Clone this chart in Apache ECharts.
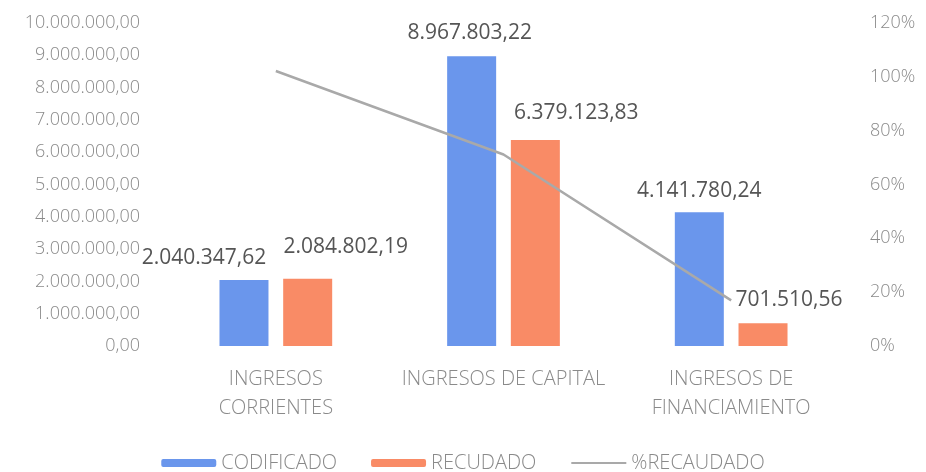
<!DOCTYPE html>
<html>
<head>
<meta charset="utf-8">
<script src="https://cdn.jsdelivr.net/npm/echarts@6/dist/echarts.min.js"></script>
<style>
html,body{margin:0;padding:0;background:#fff;}
#chart{width:926px;height:472px;}
</style>
</head>
<body>
<div id="chart"></div>
<script>
const categories = ['INGRESOS\nCORRIENTES', 'INGRESOS DE CAPITAL', 'INGRESOS DE\nFINANCIAMIENTO'];
const codificado = [2040347.62, 8967803.22, 4141780.24];
const recaudado = [2084802.19, 6379123.83, 701510.56];
const pctRecaudado = [102.18, 71.13, 16.94];
const seriesNames = ['CODIFICADO', 'RECUDADO', '%RECAUDADO'];

// label nudges (layout only)
const codOffsets = [[-40, -7], [-2, -8], [0, -6]];
const recOffsets = [[38, -16], [41, -11], [26, -8]];

function fmtEs(v, dec) {
  const parts = Number(v).toFixed(dec).split('.');
  const intPart = parts[0].replace(/\B(?=(\d{3})+(?!\d))/g, '.');
  return dec > 0 ? intPart + ',' + parts[1] : intPart;
}

const FONT = '"Open Sans", sans-serif';
const GRAY = '#8a8a8a';
const LABEL = '#555555';

function barData(vals, offs) {
  return vals.map((v, i) => ({ value: v, label: { offset: offs[i] } }));
}

const chart = echarts.init(document.getElementById('chart'));
chart.setOption({
  animation: false,
  textStyle: { fontFamily: FONT },
  grid: { left: 162, right: 81, top: 23, bottom: 126 },
  legend: {
    data: [
      { name: seriesNames[0] },
      { name: seriesNames[1] },
      { name: seriesNames[2], itemStyle: { opacity: 0 } }
    ],
    left: 'center',
    top: 448,
    itemWidth: 55,
    itemHeight: 8,
    itemGap: 34,
    textStyle: { fontFamily: FONT, fontSize: 20, fontWeight: 300, color: GRAY }
  },
  xAxis: {
    type: 'category',
    data: categories,
    axisLine: { show: false },
    axisTick: { show: false },
    axisLabel: {
      fontFamily: FONT, fontSize: 20, fontWeight: 300, color: GRAY,
      lineHeight: 29, margin: 19, interval: 0
    }
  },
  yAxis: [
    {
      type: 'value', min: 0, max: 10000000, interval: 1000000,
      splitLine: { show: false }, axisLine: { show: false }, axisTick: { show: false },
      axisLabel: {
        fontFamily: FONT, fontSize: 18, fontWeight: 300, color: GRAY, margin: 22,
        formatter: v => fmtEs(v, 2)
      }
    },
    {
      type: 'value', min: 0, max: 120, interval: 20,
      splitLine: { show: false }, axisLine: { show: false }, axisTick: { show: false },
      axisLabel: {
        fontFamily: FONT, fontSize: 18, fontWeight: 300, color: GRAY, margin: 25,
        formatter: '{value}%'
      }
    }
  ],
  series: [
    {
      name: seriesNames[0], type: 'bar', yAxisIndex: 0,
      data: barData(codificado, codOffsets),
      barWidth: 49, barGap: '30%',
      itemStyle: { color: '#6a96ec' },
      label: {
        show: true, position: 'top', distance: 5,
        fontFamily: FONT, fontSize: 21, color: LABEL,
        formatter: p => fmtEs(p.value, 2)
      }
    },
    {
      name: seriesNames[1], type: 'bar', yAxisIndex: 0,
      data: barData(recaudado, recOffsets),
      barWidth: 49, barGap: '30%',
      itemStyle: { color: '#f98b66' },
      label: {
        show: true, position: 'top', distance: 5,
        fontFamily: FONT, fontSize: 21, color: LABEL,
        formatter: p => fmtEs(p.value, 2)
      }
    },
    {
      name: seriesNames[2], type: 'line', yAxisIndex: 1,
      data: pctRecaudado,
      showSymbol: false, symbol: 'none',
      lineStyle: { color: '#a9a9a9', width: 2.5 },
      itemStyle: { color: '#a9a9a9' },
      z: 5
    }
  ]
});
</script>
</body>
</html>
